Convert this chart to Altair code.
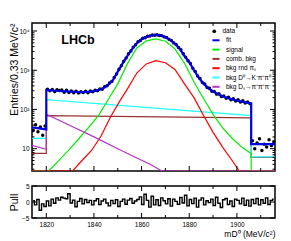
import altair as alt
import pandas as pd

# ---------------- values ----------------
x_domain = [1814, 1916]
y_domain = [2.7, 16000]
pull_domain = [-5, 5]

data_mass = [1814.5 + i for i in range(102)]
data_counts = [
    29, 41, 27, 36, 22, 38,
    330, 298, 322, 285, 318, 305, 312, 276, 310, 270,
    296, 268, 290, 262, 284, 270, 290, 266, 295, 281,
    310, 300, 335, 328, 380, 400, 470, 520, 650, 800,
    1060, 1300, 1700, 2040, 2620, 3100, 3880, 4450, 5300, 5760,
    6500, 6760, 7350, 7450, 7870, 7820, 8000, 7680, 7620, 7080,
    6850, 6120, 5750, 4980, 4530, 3780, 3340, 2620, 2160, 1750,
    1490, 1120, 935, 715, 618, 486, 444, 362, 346, 290,
    288, 246, 250, 215, 222, 194, 204, 176, 188, 165,
    176, 154, 166, 146, 156, 140,
    16, 10, 14, 18, 9, 13, 11, 17, 12, 15,
]
pull_vals = [
    0.4, -0.9, 0.8, -2.6, -0.6, -1.4,
    0.3, -1.2, 0.9, -0.4, 1.3, 0.6, 1.5, 1.2, 1.0, 2.6,
    -0.3, 0.6, -1.5, 0.2, 1.1, -0.6, 0.8, -0.2, 0.5, -0.9,
    0.4, 1.0, -0.8, 0.3, 0.9, -0.3, -1.2, 0.5, -0.5, 0.7,
    -1.4, 0.2, 0.9, -0.7, 0.6, 1.1, -0.4, 0.3, 0.8, 1.6,
    -0.8, 2.4, 0.5, -1.6, 1.8, -0.9, 0.7, -1.1, 1.3, 0.4,
    -0.6, 1.0, -1.3, 0.9, 0.2, -0.7, 1.4, -0.3, 2.1, -1.2,
    0.8, -0.5, 1.2, -1.6, 0.6, 1.3, -0.9, 0.4, -0.2, 0.9,
    -1.1, 1.5, -0.4, -1.7, 0.7, 1.1, -0.8, 0.3, -1.4, 0.9,
    0.5, -0.6, 1.2, -1.0, 0.6, -1.3, 0.8, -0.5, 1.1, -0.9,
    0.7, -0.4, 1.3, -0.8, 0.5, 0.9,
]

fit_mass = [1814, 1820, 1820, 1824, 1828, 1832, 1836, 1838, 1840, 1842,
            1844, 1846, 1848, 1850, 1852, 1854, 1856, 1858, 1860, 1862,
            1864, 1866, 1868, 1870, 1872, 1874, 1876, 1878, 1880, 1882,
            1884, 1886, 1888, 1890, 1892, 1894, 1896, 1898, 1900, 1902,
            1904, 1906, 1906, 1916]
fit_vals = [35, 31, 315, 300, 290, 281, 278, 284, 294, 315,
            352, 425, 560, 920, 1480, 2300, 3450, 4900, 6150, 7100,
            7700, 7950, 7700, 7000, 5950, 4750, 3550, 2300, 1600, 1000,
            650, 455, 350, 288, 247, 218, 197, 181, 169, 159,
            151, 143, 13, 13]

sig_mass = [1814, 1821, 1825, 1830, 1834, 1838, 1842, 1846, 1850, 1854,
            1858, 1862, 1866, 1870, 1874, 1878, 1882, 1886, 1890, 1894,
            1898, 1902, 1906, 1906, 1916]
sig_vals = [2.7, 2.7, 4.8, 10, 19, 36, 72, 180, 450, 1450,
            3700, 5600, 6300, 5500, 3500, 1500, 500, 190, 75, 34,
            18.5, 11, 7.5, 2.7, 2.7]

rnd_mass = [1814, 1831, 1835, 1839, 1843, 1847, 1851, 1854, 1858, 1862,
            1866, 1870, 1874, 1878, 1882, 1886, 1890, 1894, 1898, 1901, 1916]
rnd_vals = [2.7, 2.7, 5, 9, 21, 65, 170, 330, 850, 1450,
            1750, 1550, 1050, 450, 200, 70, 26, 11, 5, 2.7, 2.7]

comb_mass = [1814, 1820, 1820, 1906, 1906, 1916]
comb_vals = [7.6, 7.6, 70, 61, 6, 6]

kpp_mass = [1814, 1820, 1820, 1906, 1906, 1916]
kpp_vals = [18.3, 18.3, 178, 70, 6.2, 6.2]

ds_mass = [1814, 1820, 1820, 1830, 1840, 1850, 1858, 1864, 1868.5, 1916]
ds_vals = [12.2, 9.7, 76, 39, 20, 10, 5.8, 3.9, 2.7, 2.7]

line_names = ["fit", "signal", "comb. bkg", "bkg rnd πₛ",
              "bkg D⁰→K⁻π⁺π⁰", "bkg Dₛ→π⁺π⁺π⁻"]
line_colors = ["#0000e0", "#00ee00", "#993333", "#ff0000", "#22ffff", "#b434c0"]
data_name = "data"

x_major_ticks = [1820, 1840, 1860, 1880, 1900]
x_minor_ticks = [1830, 1850, 1870, 1890, 1910]
y_major_ticks = [10, 100, 1000, 10000]
y_minor_ticks = [3, 4, 5, 6, 7, 8, 9, 20, 30, 40, 50, 60, 70, 80, 90,
                 200, 300, 400, 500, 600, 700, 800, 900,
                 2000, 3000, 4000, 5000, 6000, 7000, 8000, 9000]
pull_ticks = [-5, 0, 5]

# ---------------- layout ----------------
W, H, PH = 243, 148, 32
FONT = "Liberation Sans"
ROW = 7.3

xs = alt.Scale(domain=x_domain, nice=False, zero=False)
ys = alt.Scale(type="log", domain=y_domain, nice=False)
ps = alt.Scale(domain=pull_domain, nice=False, zero=False)
line_scale = alt.Scale(domain=line_names, range=line_colors)
data_shape_scale = alt.Scale(domain=[data_name], range=["circle"])

common_leg = dict(orient="none", legendX=179, title=None, labelFontSize=6.5,
                  labelFont=FONT, labelColor="black", rowPadding=0.3,
                  labelOffset=5, padding=0, labelLimit=300, zindex=2)
leg_lines = alt.Legend(legendY=5 + ROW, symbolType="stroke", symbolSize=50,
                       symbolStrokeWidth=2, symbolOpacity=1, **common_leg)
leg_data = alt.Legend(legendY=5, symbolType="circle", symbolSize=14,
                      symbolFillColor="black", symbolStrokeColor="black",
                      symbolStrokeWidth=0, symbolOpacity=1, **common_leg)

x_axis_top = alt.Axis(labels=False, ticks=False, domain=False, grid=False, title=None)
y_axis_main = alt.Axis(values=y_major_ticks, ticks=False, domain=False, grid=False,
                       labelExpr="datum.value == 10 ? '10' : datum.value == 100 ? '10²' : datum.value == 1000 ? '10³' : '10⁴'",
                       labelFontSize=6.5, labelPadding=3,
                       title="Entries/0.33 MeV/c²", titleFontSize=10.5,
                       titleAngle=270, titleAlign="right", titleBaseline="top",
                       titleX=-23, titleY=0)
x_axis_pull = alt.Axis(values=x_major_ticks, format="d", ticks=False, domain=False, grid=False,
                       labelFontSize=6.5, labelPadding=3,
                       title="mD⁰ (MeV/c²)", titleFontSize=8.5, titleAnchor="end",
                       titleAlign="right", titleBaseline="top", titleY=11)
y_axis_pull = alt.Axis(values=pull_ticks, ticks=False, domain=False, grid=False,
                       labelFontSize=6.5, labelPadding=3,
                       title="Pull", titleFontSize=10.5, titleAngle=270,
                       titleAlign="center", titleBaseline="top",
                       titleX=-23, titleY=PH / 2)

comp_rows = []
idx = 0
for name, ms, vs in [("comb. bkg", comb_mass, comb_vals),
                     ("bkg D⁰→K⁻π⁺π⁰", kpp_mass, kpp_vals),
                     ("signal", sig_mass, sig_vals),
                     ("bkg rnd πₛ", rnd_mass, rnd_vals),
                     ("bkg Dₛ→π⁺π⁺π⁻", ds_mass, ds_vals)]:
    for m, v in zip(ms, vs):
        comp_rows.append({"series": name, "mass": m, "value": v, "idx": idx})
        idx += 1
df_comp = pd.DataFrame(comp_rows)
df_fit = pd.DataFrame({"series": "fit", "mass": fit_mass, "value": fit_vals,
                       "idx": list(range(len(fit_mass)))})
df_data = pd.DataFrame({"series": data_name, "mass": data_mass, "value": data_counts})
df_pull = pd.DataFrame({"mass": data_mass, "pull": pull_vals})

X_TOP = dict(scale=xs, axis=x_axis_top)
Y_TOP = dict(scale=ys, axis=y_axis_main)

comp = alt.Chart(df_comp).mark_line(strokeWidth=1.2, clip=True).encode(
    x=alt.X("mass:Q", **X_TOP),
    y=alt.Y("value:Q", **Y_TOP),
    stroke=alt.Stroke("series:N", scale=line_scale, legend=leg_lines),
    order="idx:Q",
)
pts = alt.Chart(df_data).mark_point(filled=True, color="black", opacity=1, size=12, clip=True).encode(
    x=alt.X("mass:Q", **X_TOP),
    y=alt.Y("value:Q", **Y_TOP),
    shape=alt.Shape("series:N", scale=data_shape_scale, legend=leg_data),
)
fit = alt.Chart(df_fit).mark_line(strokeWidth=2.2, clip=True).encode(
    x=alt.X("mass:Q", **X_TOP),
    y=alt.Y("value:Q", **Y_TOP),
    stroke=alt.Stroke("series:N", scale=line_scale, legend=leg_lines),
    order="idx:Q",
)
lhcb = alt.Chart(pd.DataFrame({"t": ["LHCb"], "m": [1833.3], "v": [5800]})).mark_text(
    font=FONT, fontWeight="bold", fontSize=12.5, color="black").encode(
    x=alt.X("m:Q", **X_TOP), y=alt.Y("v:Q", **Y_TOP), text="t:N")


def x_tick_layers(vals, length, h, xaxis):
    df = pd.DataFrame({"t": vals})
    out = []
    for y0, y1 in [(h, h - length), (0, length)]:
        out.append(alt.Chart(df).mark_rule(color="black", strokeWidth=1).encode(
            x=alt.X("t:Q", scale=xs, axis=xaxis), y=alt.value(y0), y2=alt.value(y1)))
    return out


def y_tick_layers(vals, length, scale, yaxis):
    df = pd.DataFrame({"t": vals})
    out = []
    for x0, x1 in [(0, length), (W, W - length)]:
        out.append(alt.Chart(df).mark_rule(color="black", strokeWidth=1).encode(
            y=alt.Y("t:Q", scale=scale, axis=yaxis), x=alt.value(x0), x2=alt.value(x1)))
    return out


top_layers = [comp, pts, fit, lhcb]
top_layers += x_tick_layers(x_major_ticks, 5, H, x_axis_top) + x_tick_layers(x_minor_ticks, 3, H, x_axis_top)
top_layers += y_tick_layers(y_major_ticks, 5, ys, y_axis_main) + y_tick_layers(y_minor_ticks, 2.5, ys, y_axis_main)
top = alt.layer(*top_layers).properties(width=W, height=H)

pull_line = alt.Chart(df_pull).mark_line(color="black", strokeWidth=1.4, interpolate="step", clip=True).encode(
    x=alt.X("mass:Q", scale=xs, axis=x_axis_pull),
    y=alt.Y("pull:Q", scale=ps, axis=y_axis_pull),
)
bot_layers = [pull_line]
bot_layers += x_tick_layers(x_major_ticks, 5, PH, x_axis_pull) + x_tick_layers(x_minor_ticks, 3, PH, x_axis_pull)
bot_layers += y_tick_layers(pull_ticks, 5, ps, y_axis_pull)
bottom = alt.layer(*bot_layers).properties(width=W, height=PH)

chart = alt.vconcat(top, bottom, spacing=9).resolve_scale(
    shape="independent", stroke="independent"
).resolve_legend(
    shape="independent", stroke="independent"
).properties(
    padding={"left": 0, "top": 13, "right": 0, "bottom": 0}
).configure_view(stroke="black", strokeWidth=1.5).configure_axis(
    labelFont=FONT, titleFont=FONT, labelColor="black", titleColor="black",
    titleFontWeight="normal"
)

chart.save("out.html", embed_options={"renderer": "svg", "actions": False})
